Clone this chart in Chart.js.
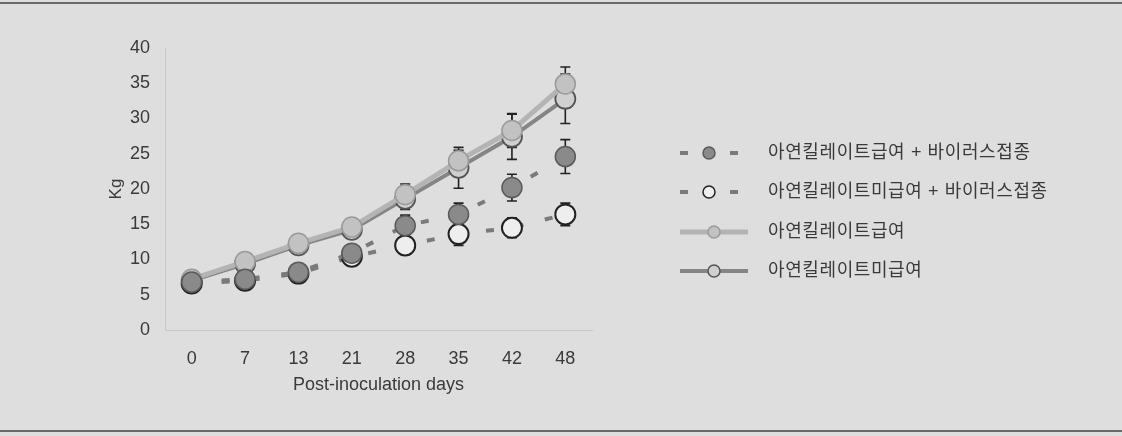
<!DOCTYPE html>
<html><head><meta charset="utf-8">
<script src="https://cdn.jsdelivr.net/npm/chart.js@4.4.1/dist/chart.umd.min.js"></script>
<style>
html,body{margin:0;padding:0;background:#dedede;}
#wrap{width:1122px;height:436px;position:relative;}
canvas{display:block;}
</style></head>
<body><div id="wrap"><canvas id="c" width="1122" height="436"></canvas></div>
<script>
const days = ['0','7','13','21','28','35','42','48'];
const seriesNames = ['아연킬레이트급여 + 바이러스접종','아연킬레이트미급여 + 바이러스접종','아연킬레이트급여','아연킬레이트미급여'];
const zincVirus      = [6.8, 7.2, 8.2, 10.9, 14.8, 16.4, 20.2, 24.6];
const zincVirusErr   = [0.5, 0.5, 0.6, 1.2, 1.5, 1.6, 1.9, 2.4];
const noZincVirus    = [6.6, 7.0, 8.0, 10.4, 12.0, 13.6, 14.5, 16.4];
const noZincVirusErr = [0.5, 0.5, 0.6, 1.0, 1.3, 1.6, 1.4, 1.6];
const zinc           = [7.2, 9.7, 12.3, 14.6, 19.2, 24.0, 28.3, 34.9];
const zincErr        = [0.5, 0.8, 0.9, 1.0, 1.5, 1.5, 2.4, 2.4];
const noZinc         = [7.0, 9.4, 12.0, 14.2, 18.6, 23.0, 27.4, 32.8];
const noZincErr      = [0.5, 0.8, 0.9, 1.0, 1.5, 2.9, 3.2, 3.5];
const yTicks = [0,5,10,15,20,25,30,35,40];

const FONT = '"Liberation Sans", "Noto Sans CJK KR", sans-serif';
const TXT = '#3a3a3a';

const errs = [zincVirusErr, noZincVirusErr, zincErr, noZincErr];

const errorBars = {
  id:'errorBars',
  beforeDatasetsDraw(chart){
    const ctx = chart.ctx, ys = chart.scales.y;
    ctx.save();
    ctx.strokeStyle = '#222'; ctx.lineWidth = 1.6;
    chart.data.datasets.forEach((ds,i)=>{
      const meta = chart.getDatasetMeta(i);
      meta.data.forEach((pt,j)=>{
        const v = ds.data[j], e = errs[i][j];
        const t = ys.getPixelForValue(v+e), b = ys.getPixelForValue(v-e);
        ctx.beginPath();
        ctx.moveTo(pt.x,t); ctx.lineTo(pt.x,b);
        ctx.moveTo(pt.x-5,t); ctx.lineTo(pt.x+5,t);
        ctx.moveTo(pt.x-5,b); ctx.lineTo(pt.x+5,b);
        ctx.stroke();
      });
    });
    ctx.restore();
  }
};

const legendPlugin = {
  id:'customLegend',
  afterDraw(chart){
    const ctx = chart.ctx;
    const rowsY = [153, 192, 232, 271];
    ctx.save();
    chart.data.datasets.forEach((ds,i)=>{
      const y = rowsY[i];
      const x0 = 680;
      ctx.strokeStyle = ds.borderColor; ctx.lineWidth = ds.borderWidth;
      ctx.beginPath();
      let mx;
      if (ds.borderDash && ds.borderDash.length){
        ctx.moveTo(x0,y); ctx.lineTo(x0+8,y);
        ctx.moveTo(x0+50,y); ctx.lineTo(x0+58,y);
        mx = x0+29;
      } else {
        ctx.moveTo(x0,y); ctx.lineTo(x0+68,y);
        mx = x0+34;
      }
      ctx.stroke();
      ctx.beginPath();
      ctx.arc(mx,y,6,0,Math.PI*2);
      ctx.fillStyle = ds.pointBackgroundColor; ctx.fill();
      ctx.lineWidth = 1.5; ctx.strokeStyle = ds.pointBorderColor; ctx.stroke();
      ctx.fillStyle = TXT;
      ctx.font = '18px ' + FONT;
      if ('letterSpacing' in ctx) ctx.letterSpacing = '0.6px';
      ctx.textBaseline = 'middle';
      ctx.fillText(ds.label, 768, y);
    });
    ctx.restore();
    ctx.save();
    ctx.fillStyle = '#6a6a6a';
    ctx.fillRect(0,2,1122,2);
    ctx.fillRect(0,430,1122,2);
    ctx.restore();
  }
};

new Chart(document.getElementById('c'), {
  type:'line',
  data:{
    labels: days,
    datasets:[
      {label:seriesNames[0], data:zincVirus, borderColor:'#7a7a7a', borderWidth:4, borderDash:[8,22],
       pointRadius:10, pointBackgroundColor:'#8a8a8a', pointBorderColor:'#5a5a5a', pointBorderWidth:1.5},
      {label:seriesNames[1], data:noZincVirus, borderColor:'#7a7a7a', borderWidth:4, borderDash:[8,22],
       pointRadius:10, pointBackgroundColor:'#eeeeee', pointBorderColor:'#222', pointBorderWidth:2},
      {label:seriesNames[2], data:zinc, borderColor:'#b4b4b4', borderWidth:5,
       pointRadius:10, pointBackgroundColor:'#c2c2c2', pointBorderColor:'#9a9a9a', pointBorderWidth:1.5},
      {label:seriesNames[3], data:noZinc, borderColor:'#858585', borderWidth:4,
       pointRadius:10, pointBackgroundColor:'#d0d0d0', pointBorderColor:'#555', pointBorderWidth:1.8}
    ]
  },
  options:{
    responsive:false, animation:false,
    layout:{padding:{left:100, right:530, top:48, bottom:36}},
    plugins:{legend:{display:false}, tooltip:{enabled:false}},
    scales:{
      x:{
        offset:true,
        grid:{display:false, drawTicks:false},
        border:{display:true, color:'#c8c8c8', width:1},
        ticks:{color:TXT, font:{family:FONT, size:18}, padding:18},
        title:{display:true, text:'Post-inoculation days', color:TXT, font:{family:FONT, size:18}, padding:{top:0,bottom:4}},
        afterFit(s){ s.height = 70; }
      },
      y:{
        min:0, max:40,
        afterBuildTicks(s){ s.ticks = yTicks.map(v=>({value:v})); },
        grid:{display:false, drawTicks:false},
        border:{display:true, color:'#c8c8c8', width:1},
        ticks:{color:TXT, font:{family:FONT, size:18}, padding:15},
        title:{display:true, text:'Kg', color:TXT, font:{family:FONT, size:17}, padding:{top:6,bottom:0}},
        afterFit(s){ s.width = 65; }
      }
    }
  },
  plugins:[errorBars, legendPlugin]
});
</script></body></html>
